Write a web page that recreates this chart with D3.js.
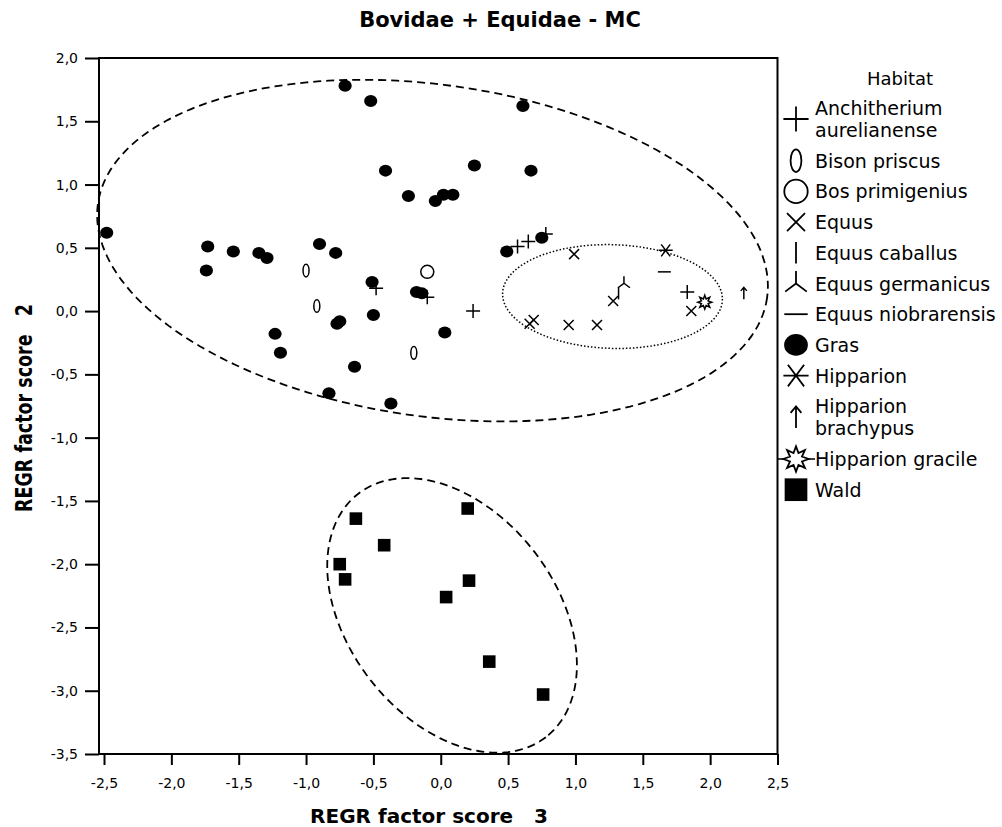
<!DOCTYPE html>
<html><head><meta charset="utf-8">
<script src="https://cdn.jsdelivr.net/npm/d3@7"></script>
<style>
body{margin:0;background:#fff;}
text{font-family:"DejaVu Sans",sans-serif;fill:#000;}
</style></head><body>
<svg id="chart" width="1002" height="827"></svg>
<script>
// ---------- data ----------
const chartTitle = "Bovidae + Equidae - MC";
const xTitle = "REGR factor score   3";
const yTitle = "REGR factor score   2";
const legendTitle = "Habitat";
const xTicks = [-2.5,-2.0,-1.5,-1.0,-0.5,0.0,0.5,1.0,1.5,2.0,2.5];
const yTicks = [2.0,1.5,1.0,0.5,0.0,-0.5,-1.0,-1.5,-2.0,-2.5,-3.0,-3.5];

const categories = ["Anchitherium aurelianense","Bison priscus","Bos primigenius","Equus","Equus caballus",
  "Equus germanicus","Equus niobrarensis","Gras","Hipparion","Hipparion brachypus","Hipparion gracile","Wald"];
const legendLines = [["Anchitherium","aurelianense"],["Bison priscus"],["Bos primigenius"],["Equus"],["Equus caballus"],
  ["Equus germanicus"],["Equus niobrarensis"],["Gras"],["Hipparion"],["Hipparion","brachypus"],["Hipparion gracile"],["Wald"]];

const anchitherium = [[0.57,0.51],[0.65,0.55],[0.78,0.61],[-0.48,0.18],[-0.10,0.11],[0.24,0.00],[1.83,0.15]];
const bisonPriscus = [[-1.00,0.32],[-0.92,0.04],[-0.20,-0.33]];
const bosPrimigenius = [[-0.10,0.31]];
const equus = [[0.99,0.45],[1.28,0.08],[1.86,0.00],[0.69,-0.07],[0.66,-0.10],[0.95,-0.11],[1.16,-0.11]];
const equusCaballus = [[1.32,0.14]];
const equusGermanicus = [[1.36,0.22]];
const equusNiobrarensis = [[1.66,0.31]];
const gras = [[-0.71,1.78],[-0.52,1.66],[-0.41,1.11],[-0.24,0.91],[-0.04,0.87],[0.02,0.92],[0.09,0.92],[0.25,1.15],
  [0.61,1.62],[0.67,1.11],[0.49,0.47],[0.75,0.58],[-2.48,0.62],[-1.73,0.51],[-1.74,0.32],[-1.54,0.47],[-1.35,0.46],
  [-1.29,0.42],[-0.90,0.53],[-0.78,0.46],[-0.51,0.23],[-0.18,0.15],[-0.14,0.14],[-1.23,-0.18],[-1.19,-0.33],
  [-0.75,-0.08],[-0.77,-0.10],[-0.50,-0.03],[0.03,-0.17],[-0.64,-0.44],[-0.83,-0.65],[-0.37,-0.73]];
const hipparion = [[1.67,0.48]];
const hipparionBrachypus = [[2.25,0.14]];
const hipparionGracile = [[1.96,0.07]];
const wald = [[0.20,-1.56],[-0.63,-1.64],[-0.42,-1.85],[-0.75,-2.00],[-0.71,-2.12],[0.21,-2.13],[0.04,-2.26],[0.36,-2.77],[0.76,-3.03]];

// group ellipses: center, two conjugate semi-diameters (data units)
const ellipseGras = {c:[-0.061,0.478], u:[2.484,-0.371], v:[-0.171,-1.298]};
const ellipseEquidae = {c:[1.275,0.115], u:[0.816,-0.02], v:[0.0,-0.41]};
const ellipseWald = {c:[0.084,-2.405], u:[0.696,-0.962], v:[-0.612,-0.502]};

const seriesData = [anchitherium,bisonPriscus,bosPrimigenius,equus,equusCaballus,equusGermanicus,
  equusNiobrarensis,gras,hipparion,hipparionBrachypus,hipparionGracile,wald];
const seriesShape = ["plus","lens","ring","cross","vbar","lambda","hbar","dot","asterisk","arrow","star","square"];

// ---------- layout ----------
const svg = d3.select("#chart");
const L = 99, R = 777.5, T = 58, B = 754;
const x = d3.scaleLinear().domain([-2.5,2.5]).range([104,777.5]);
const y = d3.scaleLinear().domain([-3.5,2.0]).range([B,T]);
const loc = d3.formatLocale({decimal:",",thousands:".",grouping:[3],currency:["",""],minus:"-"});
const fmt = loc.format(".1f");

// title
svg.append("text").attr("x",500).attr("y",27).attr("text-anchor","middle")
  .style("font-weight","bold").style("font-size","21px").text(chartTitle);

// axes
const gx = svg.append("g").attr("transform",`translate(0,${B})`)
  .call(d3.axisBottom(x).tickValues(xTicks).tickFormat(fmt).tickSize(11).tickPadding(13));
const gy = svg.append("g").attr("transform",`translate(${L},0)`)
  .call(d3.axisLeft(y).tickValues(yTicks).tickFormat(fmt).tickSize(14).tickPadding(7));
[gx,gy].forEach(g=>{
  g.select(".domain").remove();
  g.selectAll(".tick line").attr("stroke","#000").attr("stroke-width",2);
  g.selectAll(".tick text").style("font-size","14px").style("font-family","DejaVu Sans").attr("fill","#000");
});

// frame
svg.append("rect").attr("x",L).attr("y",T).attr("width",R-L).attr("height",B-T)
  .attr("fill","none").attr("stroke","#000").attr("stroke-width",2);

// axis titles
svg.append("text").attr("x",429).attr("y",823).attr("text-anchor","middle")
  .style("font-weight","bold").style("font-size","20px").style("white-space","pre").text(xTitle);
svg.append("text").attr("transform","translate(32,408) scale(1.35,1) rotate(-90)").attr("text-anchor","middle")
  .style("font-weight","bold").style("font-size","17.5px").style("white-space","pre").text(yTitle);

// ellipses
function ellipsePath(e){
  const pts = d3.range(0,361,2).map(a=>{
    const t = a*Math.PI/180;
    return [x(e.c[0]+e.u[0]*Math.cos(t)+e.v[0]*Math.sin(t)), y(e.c[1]+e.u[1]*Math.cos(t)+e.v[1]*Math.sin(t))];
  });
  return d3.line().curve(d3.curveLinearClosed)(pts);
}
const plot = svg.append("g");
plot.append("path").attr("d",ellipsePath(ellipseGras)).attr("fill","none").attr("stroke","#000")
  .attr("stroke-width",1.8).attr("stroke-dasharray","8,5");
plot.append("path").attr("d",ellipsePath(ellipseWald)).attr("fill","none").attr("stroke","#000")
  .attr("stroke-width",1.8).attr("stroke-dasharray","8,5");
plot.append("path").attr("d",ellipsePath(ellipseEquidae)).attr("fill","none").attr("stroke","#000")
  .attr("stroke-width",1.5).attr("stroke-dasharray","1.5,2");

// symbols
function drawSymbol(g, type, k, sw){
  const st = el => el.attr("stroke","#000").attr("stroke-width",sw).attr("fill","none");
  switch(type){
    case "plus": st(g.append("path").attr("d",`M${-7*k},0H${7*k}M0,${-7*k}V${7*k}`)); break;
    case "lens": st(g.append("ellipse").attr("rx",3*k).attr("ry",6.3*k)).attr("fill","#fff"); break;
    case "ring": st(g.append("circle").attr("r",6.5*k)).attr("fill","#fff"); break;
    case "cross": st(g.append("path").attr("d",`M${-5*k},${-5*k}L${5*k},${5*k}M${-5*k},${5*k}L${5*k},${-5*k}`)); break;
    case "vbar": st(g.append("path").attr("d",`M0,${-6*k}V${6*k}`)); break;
    case "lambda": st(g.append("path").attr("d",`M0,${-7*k}V0L${-6*k},${4.5*k}M0,0L${6*k},${4.5*k}`)); break;
    case "hbar": st(g.append("path").attr("d",`M${-6.5*k},0H${6.5*k}`)); break;
    case "dot": g.append("ellipse").attr("rx",6.6*k).attr("ry",6*k).attr("fill","#000"); break;
    case "asterisk": st(g.append("path").attr("d",`M${-7*k},0H${7*k}M${-4.5*k},${-6*k}L${4.5*k},${6*k}M${4.5*k},${-6*k}L${-4.5*k},${6*k}`)); break;
    case "arrow": st(g.append("path").attr("d",`M0,${6*k}V${-6*k}M${-3*k},${-2.5*k}L0,${-6*k}L${3*k},${-2.5*k}`)); break;
    case "star": {
      const pts = d3.range(16).map(i=>{const r=i%2?3.6*k:7*k, a=i*Math.PI/8-Math.PI/2; return [r*Math.cos(a), r*Math.sin(a)];});
      st(g.append("path").attr("d",d3.line().curve(d3.curveLinearClosed)(pts))).attr("fill","#fff");
      break;
    }
    case "square": g.append("rect").attr("x",-6.3*k).attr("y",-6.3*k).attr("width",12.6*k).attr("height",12.6*k).attr("fill","#000"); break;
  }
}
seriesData.forEach((arr,i)=>{
  plot.append("g").selectAll("g").data(arr).join("g")
    .attr("transform",d=>`translate(${x(d[0])},${y(d[1])})`)
    .each(function(){ drawSymbol(d3.select(this), seriesShape[i], 1, 1.5); });
});

// legend
const lg = svg.append("g");
lg.append("text").attr("x",900).attr("y",85).attr("text-anchor","middle").style("font-size","18px").text(legendTitle);
let base = 115;
categories.forEach((c,i)=>{
  const lines = legendLines[i];
  const cy = base - 7 + (lines.length-1)*11;
  const sg = lg.append("g").attr("transform",`translate(796,${cy})`);
  if(seriesShape[i]==="star") sg.append("path").attr("d","M-19,0H19").attr("stroke","#000").attr("stroke-width",1.5);
  drawSymbol(sg, seriesShape[i], 1.8, 1.8);
  lines.forEach((t,j)=>{
    lg.append("text").attr("x",815).attr("y",base+j*22).style("font-size","19px").text(t);
  });
  base += (lines.length-1)*22 + 30.7;
});
</script></body></html>
